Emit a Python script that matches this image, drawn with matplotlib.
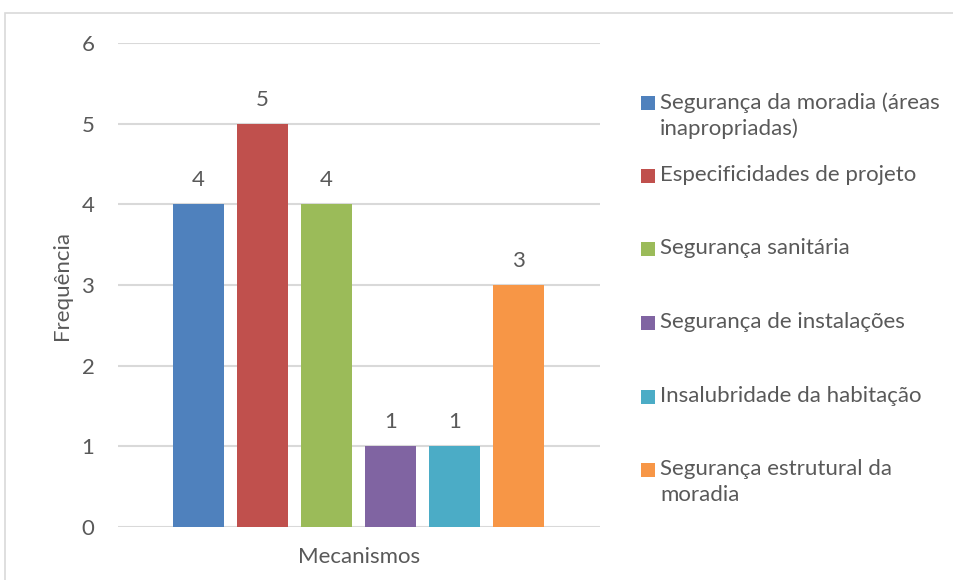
import matplotlib.pyplot as plt
from matplotlib.patches import Rectangle

plt.rcParams['font.family'] = ['Lato', 'DejaVu Sans']

# data
categories = ['Segurança da moradia (áreas\ninapropriadas)',
              'Especificidades de projeto',
              'Segurança sanitária',
              'Segurança de instalações',
              'Insalubridade da habitação',
              'Segurança estrutural da\nmoradia']
values = [4, 5, 4, 1, 1, 3]
colors = ['#4F81BD', '#C0504D', '#9BBB59', '#8064A2', '#4BACC6', '#F79646']
yticks = [0, 1, 2, 3, 4, 5, 6]

text_color = '#595959'
grid_color = '#D9D9D9'
fs = 16

fig = plt.figure(figsize=(9.54, 5.8), dpi=100)
ax = fig.add_axes([118 / 954, 1 - 527 / 580, (600 - 118) / 954, (527 - 43) / 580])

# outer border of chart area
fig.patches.append(Rectangle((5 / 954, -0.01), 1.0, 1 - 13 / 580 + 0.01,
                             transform=fig.transFigure, fill=False,
                             edgecolor=grid_color, linewidth=1.2))

x = list(range(len(values)))
bars = ax.bar(x, values, width=0.8, color=colors, zorder=3)
for xi, v in zip(x, values):
    ax.annotate(str(v), (xi, v), xytext=(0, 10), textcoords='offset points',
                ha='center', va='bottom', fontsize=fs, color=text_color)

ax.set_xlim(-1.26, 6.27)
ax.set_ylim(0, 6)
ax.set_yticks(yticks)
ax.set_xticks([])
ax.yaxis.grid(True, color=grid_color, linewidth=1.5, zorder=0)
ax.tick_params(axis='y', length=0, pad=17, labelsize=fs, labelcolor=text_color)
for s in ax.spines.values():
    s.set_visible(False)

ax.set_ylabel('Frequência', fontsize=fs, color=text_color, va='center')
ax.yaxis.set_label_coords((62 - 118) / 482, 0.5)
ax.set_xlabel('Mecanismos', fontsize=fs, color=text_color, va='center')
ax.xaxis.set_label_coords(0.5, (527 - 557) / 484)

# legend, placed to the right
legend_y = [103, 176, 249, 323, 397, 470]
for lab, c, yy in zip(categories, colors, legend_y):
    fig.patches.append(Rectangle((641 / 954, 1 - (yy + 7) / 580), 14 / 954, 14 / 580,
                                 transform=fig.transFigure, facecolor=c, edgecolor='none'))
    fig.text(660 / 954, 1 - (yy - 11) / 580, lab, fontsize=fs, color=text_color,
             ha='left', va='top', linespacing=1.38)

fig.savefig('out.png', dpi=100)
